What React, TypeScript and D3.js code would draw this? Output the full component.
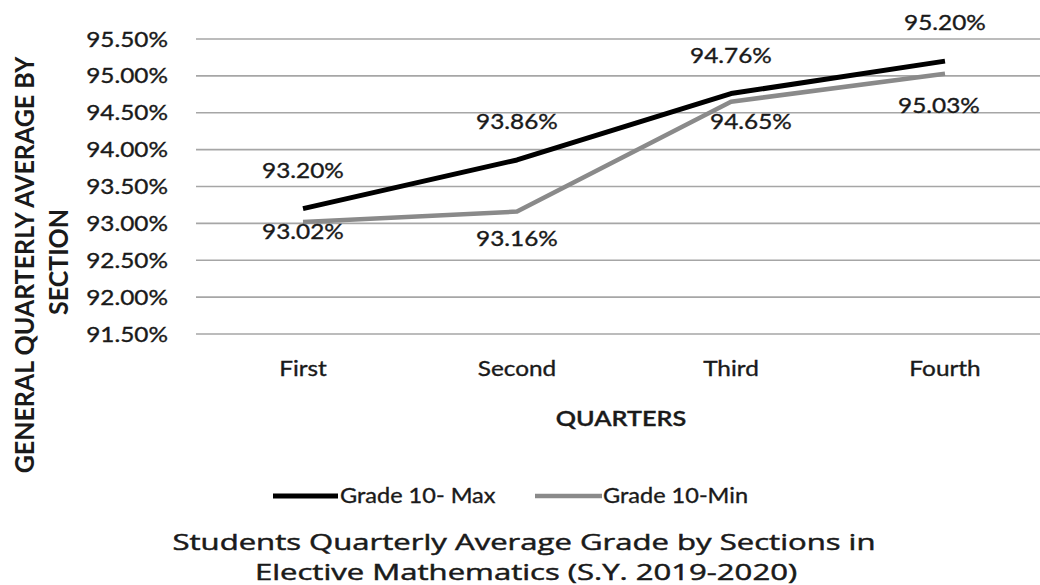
import React from "react";
import * as d3 from "d3";

const quarters = ["First", "Second", "Third", "Fourth"];
const gradeMax = [93.2, 93.86, 94.76, 95.2];
const gradeMin = [93.02, 93.16, 94.65, 95.03];
const yTicks = [91.5, 92.0, 92.5, 93.0, 93.5, 94.0, 94.5, 95.0, 95.5];
const seriesNames = ["Grade 10- Max", "Grade 10-Min"];
const yTitle = ["GENERAL QUARTERLY AVERAGE BY", "SECTION"];
const xTitle = "QUARTERS";
const caption = [
  "Students Quarterly Average Grade by Sections in",
  "Elective Mathematics (S.Y. 2019-2020)",
];

// label nudges (Excel-style manual label placement)
const minLabelDx = [0, 0, 20, -6];
const minLabelDy = [17, 34, 27, 39];

const W = 1040;
const H = 585;
const FONT = "Lato, 'Open Sans', sans-serif";
const SX = 1.16;
const TXT = "#1a1a1a";

function T({ x, y, children, size = 21, anchor = "middle", weight = 400, sx = SX, fill = TXT, family = FONT, sw = 0.35 }: any) {
  return (
    <text
      transform={`translate(${x},${y}) scale(${sx},1)`}
      textAnchor={anchor}
      fontFamily={family}
      fontSize={size}
      fontWeight={weight}
      fill={fill}
      stroke={fill}
      strokeWidth={sw}
    >
      {children}
    </text>
  );
}

export default function App() {
  const x = d3.scaleBand<string>().domain(quarters).range([196, 1052]).padding(0);
  const cx = (q: string) => (x(q) as number) + x.bandwidth() / 2;
  const y = d3.scaleLinear().domain([91.5, 95.5]).range([334, 39]);
  const line = d3
    .line<number>()
    .x((_, i) => cx(quarters[i]))
    .y((d) => y(d));
  const fmt = (v: number) => v.toFixed(2) + "%";

  return (
    <svg
      width={W}
      height={H}
      style={{ position: "absolute", left: 0, top: 0, background: "#fff" }}
    >
      <rect width={W} height={H} fill="#fff" />
      {yTicks.map((t) => (
        <g key={t}>
          <line x1={196} x2={W} y1={y(t)} y2={y(t)} stroke="#a6a6a6" strokeWidth={1.6} />
          <T x={168} y={y(t) + 7.5} anchor="end">
            {t.toFixed(2) + "%"}
          </T>
        </g>
      ))}
      {quarters.map((q) => (
        <T key={q} x={cx(q)} y={376}>
          {q}
        </T>
      ))}
      <T x={621} y={426} weight={600} sx={1.2}>
        {xTitle}
      </T>
      <g transform={`translate(25,265) scale(1.1,1) rotate(-90)`}>
        <text textAnchor="middle" y={8.5} fontFamily={FONT} fontSize={25} fontWeight={700} fill={TXT}>
          {yTitle[0]}
        </text>
      </g>
      <g transform={`translate(59,262) scale(1.1,1) rotate(-90)`}>
        <text textAnchor="middle" y={8.5} fontFamily={FONT} fontSize={25} fontWeight={700} fill={TXT}>
          {yTitle[1]}
        </text>
      </g>
      <path d={line(gradeMin) || ""} fill="none" stroke="#8a8a8a" strokeWidth={4.5} strokeLinejoin="round" />
      <path d={line(gradeMax) || ""} fill="none" stroke="#000" strokeWidth={5} strokeLinejoin="round" />
      {gradeMax.map((v, i) => (
        <T key={"mx" + i} x={cx(quarters[i])} y={y(v) - 31}>
          {fmt(v)}
        </T>
      ))}
      {gradeMin.map((v, i) => (
        <T key={"mn" + i} x={cx(quarters[i]) + minLabelDx[i]} y={y(v) + minLabelDy[i]}>
          {fmt(v)}
        </T>
      ))}
      {/* legend */}
      <line x1={273} x2={338} y1={496} y2={496} stroke="#000" strokeWidth={5} />
      <T x={340} y={503} anchor="start" sx={1.12}>
        {seriesNames[0]}
      </T>
      <line x1={535} x2={602} y1={496} y2={496} stroke="#8a8a8a" strokeWidth={4.5} />
      <T x={603} y={503} anchor="start" sx={1.12}>
        {seriesNames[1]}
      </T>
      <T x={524} y={550} size={21} sx={1.48} family="'Open Sans', sans-serif" sw={0.45}>
        {caption[0]}
      </T>
      <T x={526} y={580} size={21} sx={1.48} family="'Open Sans', sans-serif" sw={0.45}>
        {caption[1]}
      </T>
    </svg>
  );
}
